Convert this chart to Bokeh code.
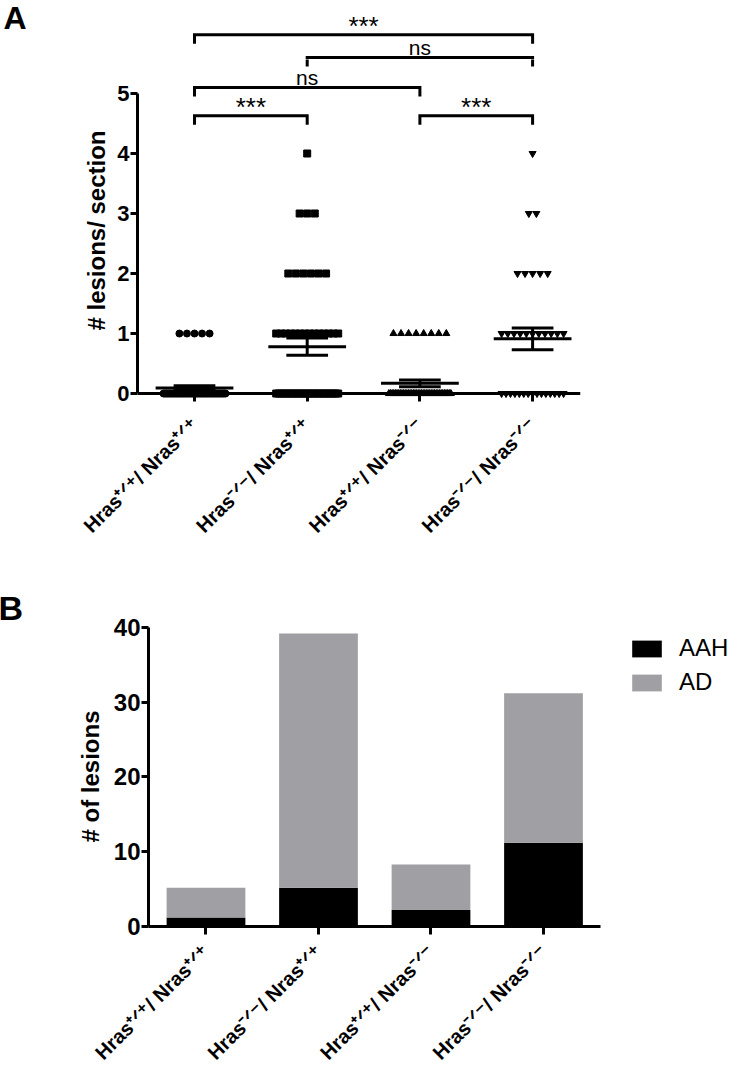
import numpy as np
from math import pi
from bokeh.plotting import figure
from bokeh.models import FixedTicker, Span, Legend, LegendItem, ColumnDataSource
from bokeh.core.properties import value
from bokeh.embed import file_html
from bokeh.resources import INLINE

FONT = "Liberation Sans"

# ---------------- data ----------------
PP = "\u207a\u141f\u207a"   # superscript +/+
MM = "\u207b\u141f\u207b"   # superscript -/-
group_labels = [f"Hras{PP}/ Nras{PP}", f"Hras{MM}/ Nras{PP}",
                f"Hras{PP}/ Nras{MM}", f"Hras{MM}/ Nras{MM}"]

# Panel A: number of sections with 0,1,2,3,4 lesions per genotype
lesion_levels = [0, 1, 2, 3, 4]
counts_g1 = [50, 5, 0, 0, 0]
counts_g2 = [26, 14, 6, 3, 1]
counts_g3 = [39, 8, 0, 0, 0]
counts_g4 = [15, 11, 5, 2, 1]
group_counts = [counts_g1, counts_g2, counts_g3, counts_g4]
group_markers = ["circle", "square", "triangle", "inverted_triangle"]

# significance comparisons (group a, group b, label)
comparisons = [(0, 1, "***"), (2, 3, "***"), (0, 2, "ns"), (1, 3, "ns"), (0, 3, "***")]
bracket_levels = [4.63, 4.63, 5.10, 5.60, 5.98]

# Panel B: number of lesions by type
aah_counts = [1.2, 5.2, 2.2, 11.2]
ad_counts = [4.0, 34.0, 6.1, 20.0]

# ---------------- helpers ----------------
def bare(p):
    p.outline_line_color = None
    p.grid.visible = False
    p.background_fill_color = "white"
    p.border_fill_color = "white"

def style_axes(p, yticks, ybounds, ysize, ylabel, ystandoff, xstandoff):
    ya = p.yaxis[0]
    ya.ticker = FixedTicker(ticks=yticks)
    ya.bounds = ybounds
    ya.axis_line_width = 3
    ya.axis_line_color = "black"
    ya.major_tick_line_width = 3
    ya.major_tick_line_color = "black"
    ya.major_tick_out = 7
    ya.major_tick_in = 0
    ya.minor_tick_line_color = None
    ya.major_label_text_font = FONT
    ya.major_label_text_font_style = "bold"
    ya.major_label_text_font_size = ysize
    ya.major_label_text_color = "black"
    ya.major_label_standoff = 1
    ya.axis_label = ylabel
    ya.axis_label_text_font = FONT
    ya.axis_label_text_font_style = "bold"
    ya.axis_label_text_font_size = "24px"
    ya.axis_label_text_color = "black"
    ya.axis_label_standoff = ystandoff
    xa = p.xaxis[0]
    xa.ticker = FixedTicker(ticks=[0, 1, 2, 3])
    xa.major_label_overrides = {i: t for i, t in enumerate(group_labels)}
    xa.major_label_orientation = pi / 4
    xa.major_label_text_font = FONT
    xa.major_label_text_font_style = "bold"
    xa.major_label_text_font_size = "20px"
    xa.major_label_text_color = "black"
    xa.major_tick_line_width = 3
    xa.major_tick_line_color = "black"
    xa.minor_tick_line_color = None
    xa.major_label_standoff = xstandoff

def draw_brackets(p, text_filter):
    drop = 0.15
    bx, by = [], []
    tx, ty, tt, ts = [], [], [], []
    for (a, b, lab), lv in zip(comparisons, bracket_levels):
        bx.append([a, a, b, b])
        by.append([lv - drop, lv, lv, lv - drop])
        if text_filter(lv):
            tx.append((a + b) / 2)
            ty.append(lv + (0.14 if lab == "***" else 0.17))
            tt.append(lab)
            ts.append("26px" if lab == "***" else "21px")
    p.multi_line(bx, by, line_width=3, color="black", line_join="miter")
    p.text(x=tx, y=ty, text=tt, text_font_size=ts, text_align="center",
           text_baseline="alphabetic", text_font=value(FONT), color="black")

# ---------------- strip above panel A (brackets + letter) ----------------
p0 = figure(width=732, height=59, x_range=(-1.7214, 4.7737), y_range=(5.5667, 6.55),
            output_backend="svg", toolbar_location=None,
            x_axis_location=None, y_axis_location=None,
            min_border_left=0, min_border_right=0, min_border_top=0, min_border_bottom=0)
bare(p0)
draw_brackets(p0, lambda lv: lv > 5.3)
p0.text(x=[-1.695], y=[6.255], text=["A"], text_font=value(FONT), text_font_style="bold",
        text_font_size="32px", text_align="left", text_baseline="alphabetic", color="black")

# ---------------- panel A ----------------
p1 = figure(width=732, height=506, x_range=(-0.5058, 3.4251), y_range=(-0.133, 5.5667),
            output_backend="svg", toolbar_location=None,
            min_border_left=137, min_border_right=152, min_border_top=0, min_border_bottom=164)
bare(p1)
style_axes(p1, [0, 1, 2, 3, 4, 5], (0, 5), "22px", "# lesions/ section", 4, 20)
p1.xaxis.axis_line_color = None
p1.xaxis.major_tick_in = 8
p1.xaxis.major_tick_out = 0
p1.add_layout(Span(location=0, dimension="width", line_color="black", line_width=3))

def row_offsets(k):
    if k <= 1:
        return np.zeros(k)
    step = min(0.067, 0.55 / (k - 1))
    return (np.arange(k) - (k - 1) / 2) * step

for gi, (cnts, mk) in enumerate(zip(group_counts, group_markers)):
    xs, ys = [], []
    for lv, k in zip(lesion_levels, cnts):
        xs.extend(gi + row_offsets(k))
        ys.extend([lv] * k)
    p1.scatter(xs, ys, marker=mk, size=7, color="black")
    arr = np.array(ys, dtype=float)
    mean = arr.mean()
    sem = arr.std(ddof=1) / np.sqrt(len(arr))
    p1.segment(x0=[gi - 0.345], y0=[mean], x1=[gi + 0.345], y1=[mean], line_width=3, color="black")
    p1.segment(x0=[gi - 0.185, gi - 0.185, gi], y0=[mean - sem, mean + sem, mean - sem],
               x1=[gi + 0.185, gi + 0.185, gi], y1=[mean - sem, mean + sem, mean + sem],
               line_width=3, color="black")

draw_brackets(p1, lambda lv: lv < 5.3)

# ---------------- panel B ----------------
p2 = figure(width=732, height=511, x_range=(-0.5111, 4.68), y_range=(0, 40.13),
            output_backend="svg", toolbar_location=None,
            min_border_left=148, min_border_right=0, min_border_top=61, min_border_bottom=150)
bare(p2)
src = ColumnDataSource(dict(x=[0, 1, 2, 3], aah=aah_counts, ad=ad_counts))
rs = p2.vbar_stack(["aah", "ad"], x="x", width=0.7, source=src, color=["black", "#a0a0a4"],
                   line_color=None)
style_axes(p2, [0, 10, 20, 30, 40], (0, 40), "24px", "# of lesions", 7, 14)
p2.xaxis.bounds = (-0.5111, 3.5067)
p2.xaxis.axis_line_width = 3
p2.xaxis.axis_line_color = "black"
p2.xaxis.major_tick_out = 8
p2.xaxis.major_tick_in = 0

lg = Legend(items=[LegendItem(label="AAH", renderers=[rs[0]]),
                   LegendItem(label="AD", renderers=[rs[1]])],
            location=(480, 230))
lg.margin = 0
lg.padding = 0
lg.border_line_color = None
lg.background_fill_alpha = 0
lg.glyph_width = 37
lg.glyph_height = 21
lg.label_height = 28
lg.spacing = 6
lg.label_standoff = 14
lg.label_text_font = FONT
lg.label_text_font_size = "24px"
lg.label_text_color = "black"
lg.label_text_baseline = "middle"
p2.add_layout(lg)

p2.title.text = "B"
p2.title.align = "left"
p2.title.offset = -150
p2.title.vertical_align = "bottom"
p2.title.standoff = 0
p2.title.text_font = FONT
p2.title.text_font_style = "bold"
p2.title.text_font_size = "34px"
p2.title.text_color = "black"

open("out.html", "w").write(file_html([p0, p1, p2], INLINE))
